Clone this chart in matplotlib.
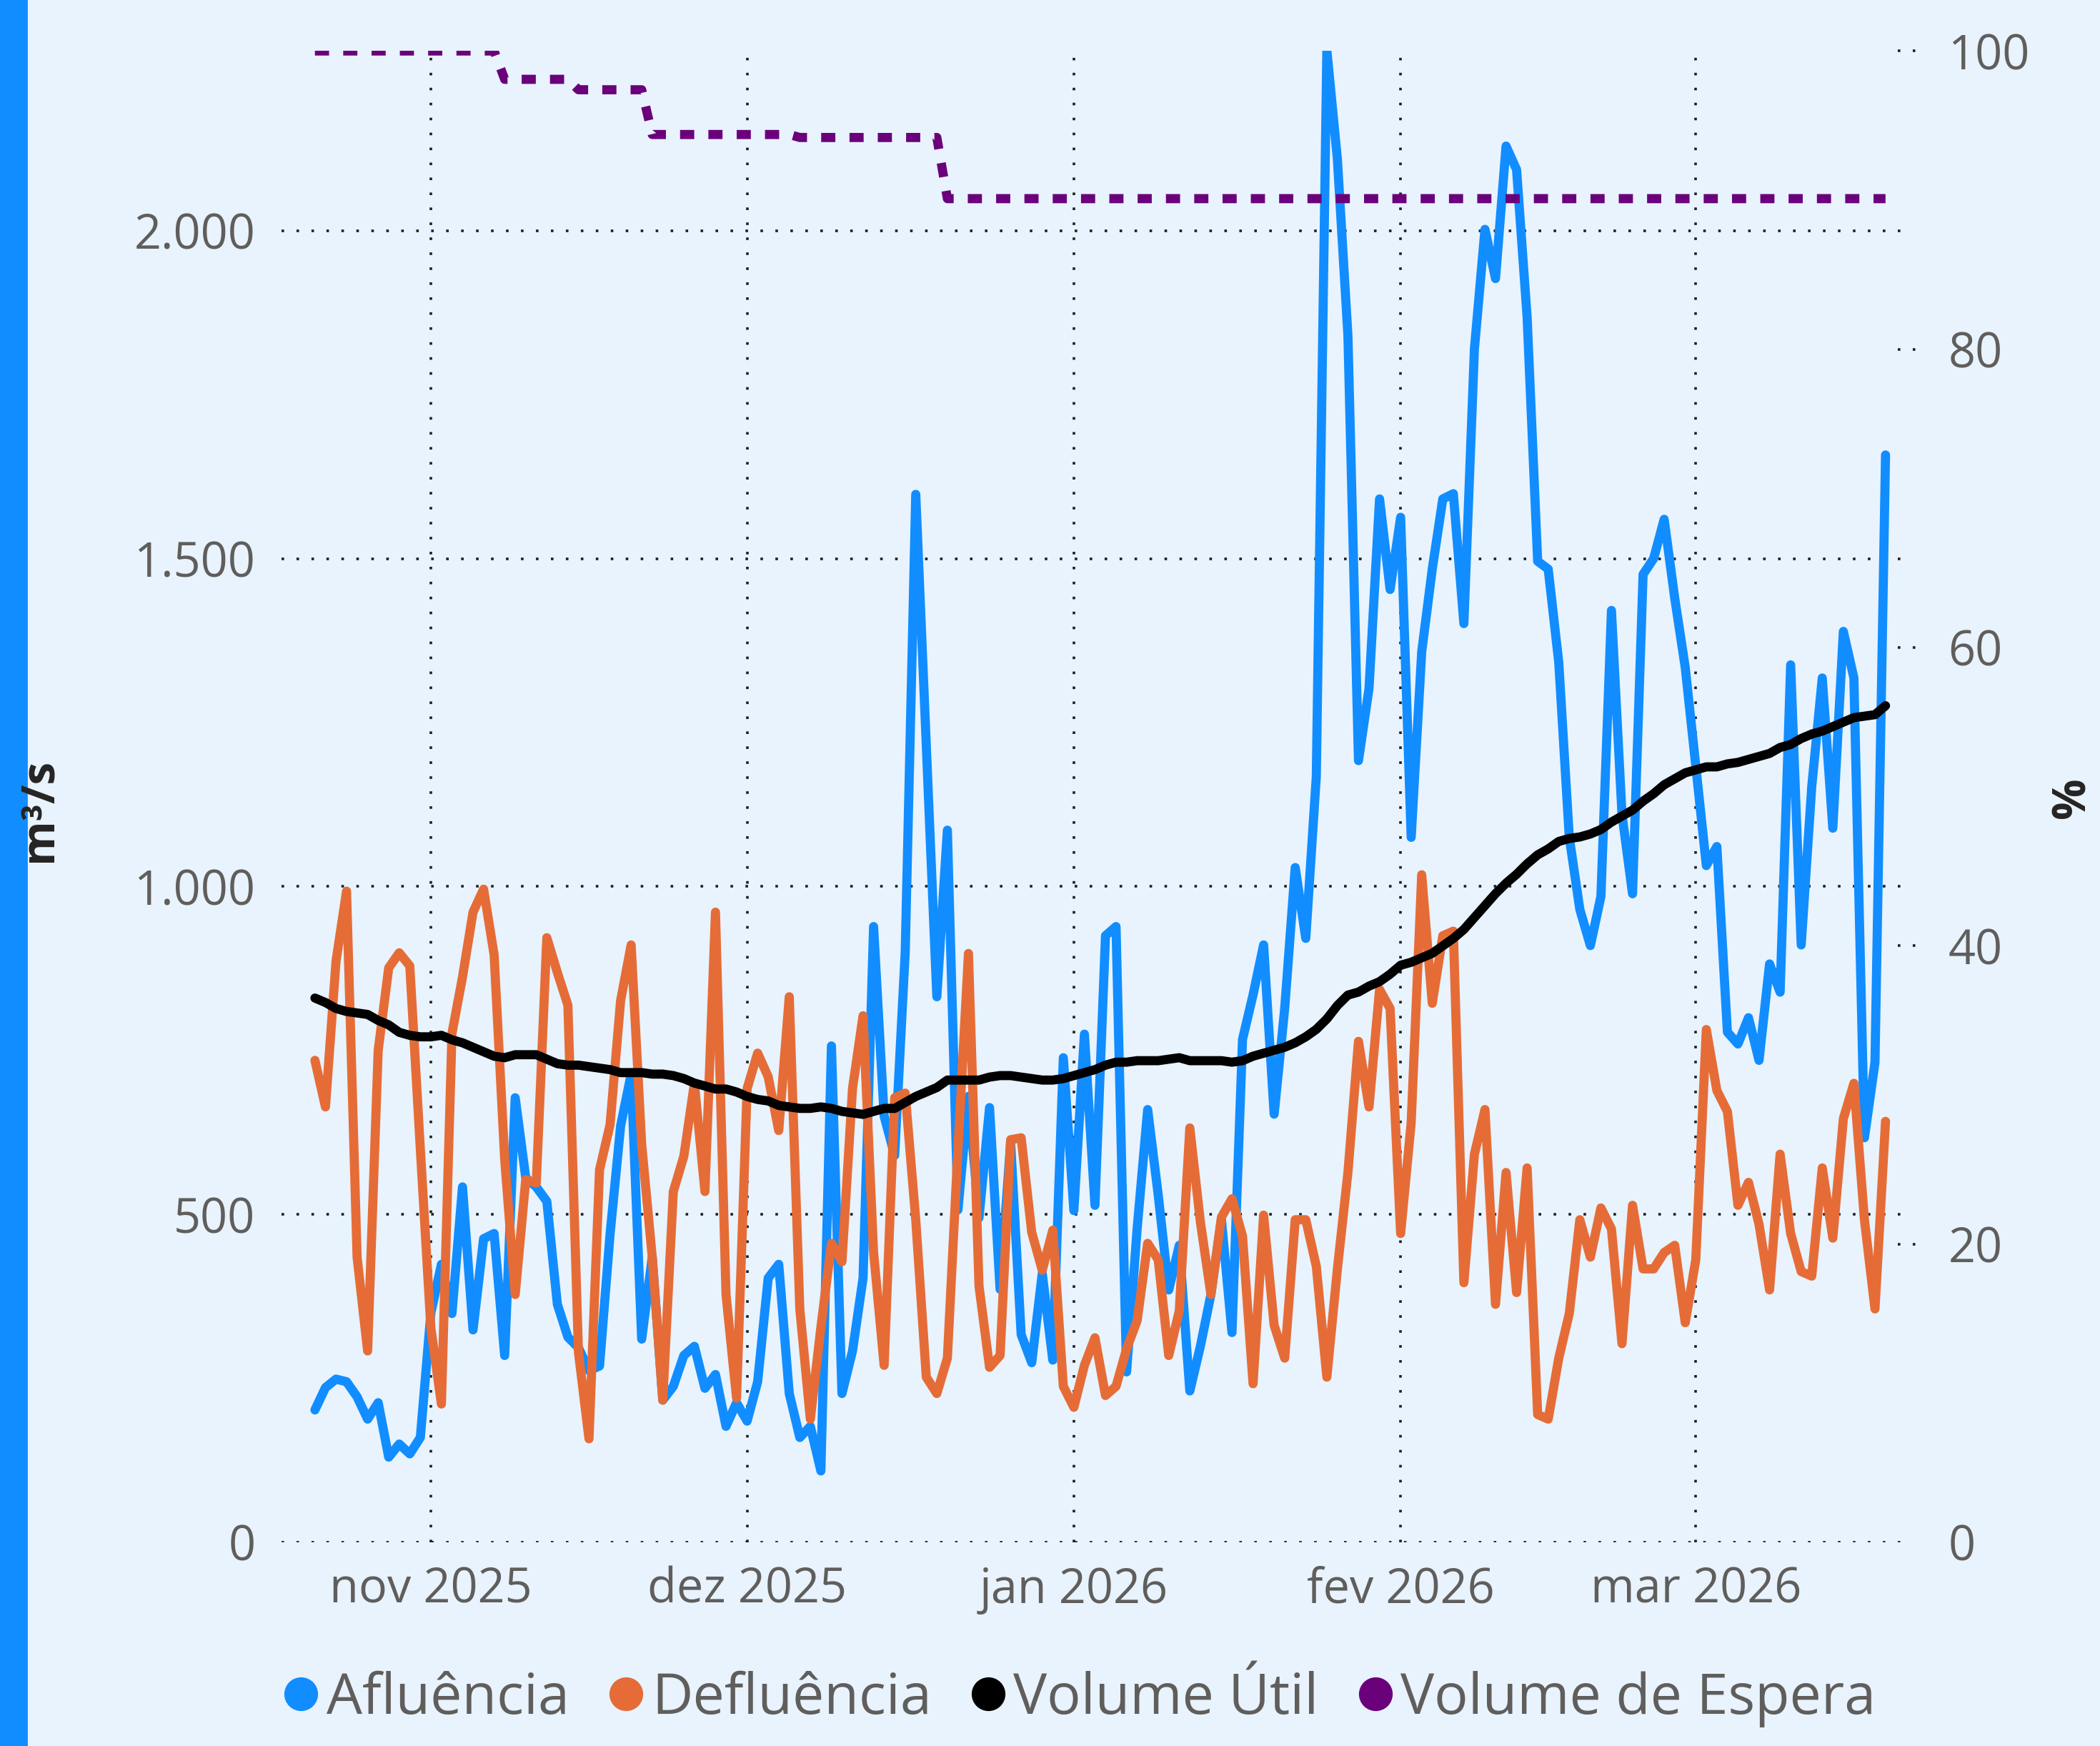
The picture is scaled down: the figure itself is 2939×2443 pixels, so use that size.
import matplotlib
matplotlib.use('Agg')
import matplotlib.pyplot as plt
import matplotlib.dates as mdates
import matplotlib.transforms as mtransforms
from matplotlib.lines import Line2D
from matplotlib.patches import Rectangle
from matplotlib.ticker import FuncFormatter
import pandas as pd

plt.rcParams['font.family'] = ['Open Sans', 'DejaVu Sans']

# dados diarios, 21/10/2025 a 19/03/2026
dias = pd.date_range('2025-10-21', periods=150, freq='D')

afluencia = [
    202, 236, 249, 245, 222, 188, 213, 130, 150, 135,
    160, 350, 424, 349, 542, 324, 463, 471, 285, 678,
    556, 542, 520, 363, 313, 297, 262, 269, 470, 635,
    714, 310, 435, 217, 238, 285, 299, 235, 256, 177,
    213, 185, 245, 403, 424, 227, 160, 177, 109, 757,
    227, 292, 403, 939, 650, 590, 900, 1598, 1215, 832,
    1086, 507, 680, 495, 663, 386, 610, 317, 274, 410,
    278, 739, 506, 775, 514, 925, 939, 260, 478, 660,
    530, 385, 453, 231, 299, 378, 492, 320, 767, 835,
    911, 653, 814, 1029, 921, 1168, 2275, 2109, 1840, 1192,
    1302, 1591, 1453, 1563, 1075, 1358, 1484, 1591, 1599, 1401,
    1820, 2002, 1927, 2129, 2093, 1868, 1496, 1484, 1342, 1075,
    965, 910, 985, 1421, 1110, 989, 1476, 1500, 1560, 1440,
    1334, 1184, 1032, 1061, 778, 760, 800, 735, 882, 839,
    1338, 911, 1152, 1318, 1089, 1389, 1318, 617, 732, 1658,
]

defluencia = [
    735, 664, 886, 993, 435, 292, 750, 876, 899, 879,
    600, 327, 211, 776, 862, 961, 996, 896, 585, 378,
    553, 548, 922, 869, 819, 290, 158, 568, 637, 826,
    911, 607, 435, 217, 535, 589, 700, 535, 961, 378,
    220, 692, 746, 710, 628, 832, 356, 188, 328, 456,
    428, 692, 803, 442, 270, 678, 685, 492, 252, 227,
    281, 599, 898, 391, 267, 285, 614, 617, 473, 415,
    476, 238, 206, 270, 312, 224, 238, 295, 338, 456,
    431, 285, 353, 632, 489, 378, 496, 524, 467, 242,
    499, 331, 281, 492, 492, 421, 252, 417, 564, 764,
    664, 843, 814, 471, 640, 1018, 822, 925, 932, 396,
    592, 660, 363, 564, 381, 571, 195, 188, 281, 349,
    492, 435, 510, 478, 303, 514, 417, 417, 442, 453,
    335, 431, 782, 689, 657, 514, 549, 485, 385, 592,
    471, 413, 406, 571, 464, 646, 700, 492, 356, 642,
]

volume_util = [
    36.5, 36.2, 35.8, 35.6, 35.5, 35.4, 35.0, 34.7, 34.2, 34.0,
    33.9, 33.9, 34.0, 33.7, 33.5, 33.2, 32.9, 32.6, 32.5, 32.7,
    32.7, 32.7, 32.4, 32.1, 32.0, 32.0, 31.9, 31.8, 31.7, 31.5,
    31.5, 31.5, 31.4, 31.4, 31.3, 31.1, 30.8, 30.6, 30.4, 30.4,
    30.2, 29.9, 29.7, 29.6, 29.3, 29.2, 29.1, 29.1, 29.2, 29.1,
    28.9, 28.8, 28.7, 28.9, 29.1, 29.1, 29.5, 29.9, 30.2, 30.5,
    31.0, 31.0, 31.0, 31.0, 31.2, 31.3, 31.3, 31.2, 31.1, 31.0,
    31.0, 31.1, 31.3, 31.5, 31.7, 32.0, 32.2, 32.2, 32.3, 32.3,
    32.3, 32.4, 32.5, 32.3, 32.3, 32.3, 32.3, 32.2, 32.3, 32.6,
    32.8, 33.0, 33.2, 33.5, 33.9, 34.4, 35.1, 36.0, 36.7, 36.9,
    37.3, 37.6, 38.1, 38.7, 38.9, 39.2, 39.5, 40.0, 40.5, 41.1,
    41.9, 42.7, 43.5, 44.2, 44.8, 45.5, 46.1, 46.5, 47.0, 47.2,
    47.3, 47.5, 47.8, 48.3, 48.7, 49.1, 49.7, 50.2, 50.8, 51.2,
    51.6, 51.8, 52.0, 52.0, 52.2, 52.3, 52.5, 52.7, 52.9, 53.3,
    53.5, 53.9, 54.2, 54.4, 54.7, 55.0, 55.3, 55.4, 55.5, 56.1,
]

# volume de espera em degraus
volume_espera = ([100.0] * 18 + [98.1] * 7 + [97.4] * 7 + [94.4] * 14
                 + [94.2] * 14 + [90.1] * 90)

meses = pd.to_datetime(['2025-11-01', '2025-12-01', '2026-01-01', '2026-02-01', '2026-03-01'])
rotulos_meses = ['nov 2025', 'dez 2025', 'jan 2026', 'fev 2026', 'mar 2026']
ticks_esq = [0, 500, 1000, 1500, 2000]
ticks_dir = [0, 20, 40, 60, 80, 100]

nomes = ['Afluência', 'Defluência', 'Volume Útil', 'Volume de Espera']
cores = ['#118DFF', '#E66C37', '#000000', '#6B007B']

fundo = '#E8F3FD'
cinza = '#605E5C'
grade = '#1E1E1E'
lw = 4.6

fig = plt.figure(figsize=(14.695, 12.215), dpi=200, facecolor=fundo)
ax = fig.add_axes([0.1339, 0.1166, 0.7730, 0.8542])
ax.set_facecolor(fundo)
ax2 = ax.twinx()

# series do eixo da esquerda (m3/s)
ax.plot(dias, afluencia, color=cores[0], lw=lw, solid_capstyle='round',
        solid_joinstyle='round', zorder=3)
ax.plot(dias, defluencia, color=cores[1], lw=lw, solid_capstyle='round',
        solid_joinstyle='round', zorder=4)

# series do eixo da direita (%)
ax2.plot(dias, volume_util, color=cores[2], lw=lw, solid_capstyle='round',
         solid_joinstyle='round', zorder=5)
ax2.plot(dias, volume_espera, color=cores[3], lw=lw, linestyle=(0, (1.55, 1.55)),
         dash_capstyle='butt', zorder=5)

x0 = mdates.date2num(dias[0])
ax.set_xlim(x0 - 3.2, x0 + 150.8)
ax.set_ylim(0, 2274)
ax2.set_ylim(0, 100)

ax.set_xticks(meses)
ax.set_xticklabels(rotulos_meses)
ax.set_yticks(ticks_esq)
ax.yaxis.set_major_formatter(FuncFormatter(lambda v, p: f'{int(v):,}'.replace(',', '.')))
ax2.set_yticks(ticks_dir)

ax.grid(True, color=grade, linestyle=(0, (1, 4.8)), lw=1.3)
ax.set_axisbelow(True)

for a in (ax, ax2):
    for s in a.spines.values():
        s.set_visible(False)

ax.tick_params(axis='y', length=0, pad=13, labelsize=24, labelcolor=cinza)
ax.tick_params(axis='x', length=0, pad=12, labelsize=24, labelcolor=cinza)
ax2.tick_params(axis='y', length=0, pad=22, labelsize=24, labelcolor=cinza)

# pequenos tracos pontilhados do eixo da direita
trans = mtransforms.blended_transform_factory(ax2.transAxes, ax2.transData)
for t in ticks_dir[1:]:
    ax2.plot([0.996, 1.012], [t, t], transform=trans, color=grade,
             linestyle=(0, (1, 4.8)), lw=1.3, clip_on=False)

fig.text(0.019, 0.536, 'm³/s', rotation=90, fontsize=23, fontweight='bold',
         color='#252423', ha='center', va='center')
fig.text(0.987, 0.543, '%', rotation=90, fontsize=23, fontweight='bold',
         color='#252423', ha='center', va='center')

handles = [Line2D([], [], marker='o', ls='none', markersize=16,
                  markerfacecolor=c, markeredgecolor=c) for c in cores]
fig.legend(handles, nomes, loc='center', bbox_to_anchor=(0.513, 0.027), ncol=4,
           frameon=False, fontsize=28.5, labelcolor=cinza, handletextpad=0.05,
           columnspacing=0.6, handlelength=0.8)

# barra azul na borda esquerda
fig.add_artist(Rectangle((0, 0), 20 / 1568, 1, transform=fig.transFigure,
                         color='#118DFF', zorder=0))

fig.savefig('out.png', dpi=200, facecolor=fundo)
